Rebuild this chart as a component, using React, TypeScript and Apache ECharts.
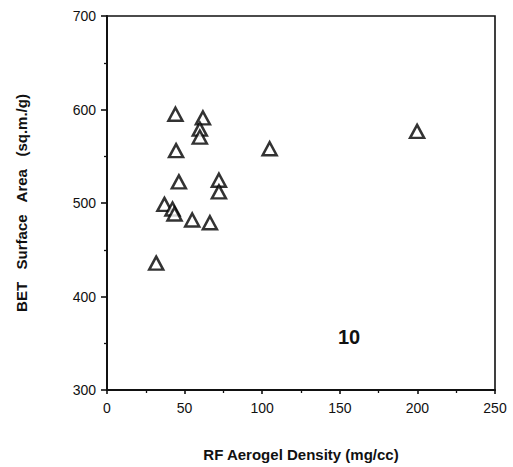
import React, { useEffect, useRef } from "react";
import * as echarts from "echarts";

const densityValues = [44.1, 61.8, 59.8, 59.8, 44.5, 104.8, 199.8, 46.3, 72.1, 72.1, 37.0, 42.2, 43.5, 54.9, 66.3, 31.7];
const surfaceAreaValues = [595, 591, 579, 570.5, 556, 558, 576.6, 522.6, 524.4, 511.9, 498.5, 493.5, 488.2, 481.8, 478.9, 435.7];
const xTickLabels = ["0", "50", "100", "150", "200", "250"];
const yTickLabels = ["300", "400", "500", "600", "700"];

export default function App() {
  const ref = useRef<HTMLDivElement>(null);
  useEffect(() => {
    if (!ref.current) return;
    const chart = echarts.init(ref.current, null, { renderer: "svg" });
    const font = "'Liberation Sans', Arial, Helvetica, sans-serif";
    chart.setOption({
      animation: false,
      backgroundColor: "#ffffff",
      grid: {
        left: 107,
        right: 18,
        top: 16,
        bottom: 77,
        show: true,
        borderColor: "#111",
        borderWidth: 1.6,
      },
      xAxis: {
        type: "value",
        min: 0,
        max: 250,
        interval: 50,
        name: "RF Aerogel Density (mg/cc)",
        nameLocation: "middle",
        nameGap: 57,
        nameTextStyle: { fontFamily: font, fontSize: 15, fontWeight: "bold", color: "#111" },
        axisLine: { show: true, lineStyle: { color: "#111", width: 2 } },
        axisTick: { show: true, length: 4, lineStyle: { color: "#111", width: 1.6 } },
        minorTick: { show: true, splitNumber: 2, length: 3, lineStyle: { color: "#111", width: 1.3 } },
        splitLine: { show: false },
        axisLabel: {
          fontFamily: font,
          fontSize: 14,
          color: "#111",
          margin: 11,
          formatter: (v: number) => xTickLabels[Math.round(v / 50)] ?? "",
        },
      },
      yAxis: {
        type: "value",
        min: 300,
        max: 700,
        interval: 100,
        name: "BET   Surface   Area   (sq.m./g)",
        nameLocation: "middle",
        nameGap: 78,
        nameRotate: 90,
        nameTextStyle: { fontFamily: font, fontSize: 15, fontWeight: "bold", color: "#111" },
        axisLine: { show: true, lineStyle: { color: "#111", width: 2 } },
        axisTick: { show: true, length: 6, lineStyle: { color: "#111", width: 1.6 } },
        minorTick: { show: true, splitNumber: 2, length: 3, lineStyle: { color: "#111", width: 1.3 } },
        splitLine: { show: false },
        axisLabel: {
          fontFamily: font,
          fontSize: 14,
          color: "#111",
          margin: 11,
          formatter: (v: number) => yTickLabels[Math.round((v - 300) / 100)] ?? "",
        },
      },
      series: [
        {
          type: "scatter",
          data: densityValues.map((x, i) => [x, surfaceAreaValues[i]]),
          symbol: "triangle",
          symbolSize: [14, 13],
          itemStyle: { color: "#ffffff", borderColor: "#000", borderWidth: 2.5 },
        },
      ],
      graphic: [
        {
          type: "text",
          left: 338,
          top: 327,
          style: { text: "10", fontFamily: font, fontSize: 20, fontWeight: "bold", fill: "#111" },
        },
      ],
    });
    return () => chart.dispose();
  }, []);
  return (
    <div
      ref={ref}
      style={{ position: "fixed", left: 0, top: 0, width: 513, height: 467 }}
    />
  );
}
